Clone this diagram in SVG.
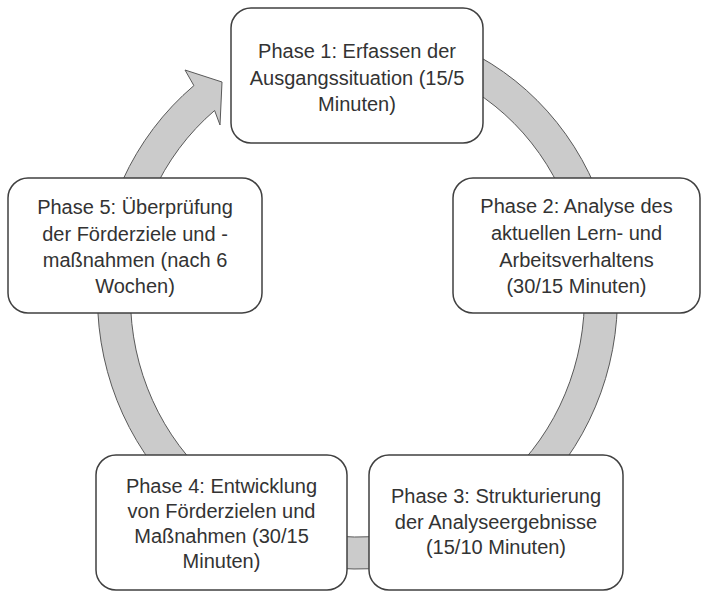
<svg xmlns="http://www.w3.org/2000/svg" width="704" height="596" viewBox="0 0 704 596">
<style>
.box{fill:#ffffff;stroke:#404040;stroke-width:1.5}
.ring{fill:#cbcbcb;stroke:#595959;stroke-width:1}
.t{font-family:"Liberation Sans",Arial,sans-serif;font-size:20px;fill:#333333;text-anchor:middle}
</style>
<rect width="704" height="596" fill="#ffffff"/>
<g id="connectors">
<path class="ring" d="M424.8,34.3 A260,272 0 1 1 193.9,85.6 L185,70 L222,82 L220,125 L214.6,110.5 A227,240 0 1 0 416.2,65.2 Z"/>
</g>
<g id="phase1">
<rect class="box" x="231" y="8" width="252" height="135" rx="20"/>
<text class="t" x="357" y="58">Phase 1: Erfassen der</text>
<text class="t" x="357" y="84.5">Ausgangssituation (15/5</text>
<text class="t" x="357" y="111">Minuten)</text>
</g>
<g id="phase2">
<rect class="box" x="453" y="178" width="247" height="135" rx="20"/>
<text class="t" x="576.5" y="213">Phase 2: Analyse des</text>
<text class="t" x="576.5" y="240">aktuellen Lern- und</text>
<text class="t" x="576.5" y="266.5">Arbeitsverhaltens</text>
<text class="t" x="576.5" y="293">(30/15 Minuten)</text>
</g>
<g id="phase3">
<rect class="box" x="369" y="455" width="254" height="135" rx="20"/>
<text class="t" x="496" y="503">Phase 3: Strukturierung</text>
<text class="t" x="496" y="528.5">der Analyseergebnisse</text>
<text class="t" x="496" y="554">(15/10 Minuten)</text>
</g>
<g id="phase4">
<rect class="box" x="96" y="455" width="251" height="135" rx="20"/>
<text class="t" x="221.5" y="492.5">Phase 4: Entwicklung</text>
<text class="t" x="221.5" y="517.5">von Förderzielen und</text>
<text class="t" x="221.5" y="542.5">Maßnahmen (30/15</text>
<text class="t" x="221.5" y="567.5">Minuten)</text>
</g>
<g id="phase5">
<rect class="box" x="8" y="178" width="254" height="135" rx="20"/>
<text class="t" x="135" y="214">Phase 5: Überprüfung</text>
<text class="t" x="135" y="240.5">der Förderziele und -</text>
<text class="t" x="135" y="266.5">maßnahmen (nach 6</text>
<text class="t" x="135" y="293">Wochen)</text>
</g>
</svg>
